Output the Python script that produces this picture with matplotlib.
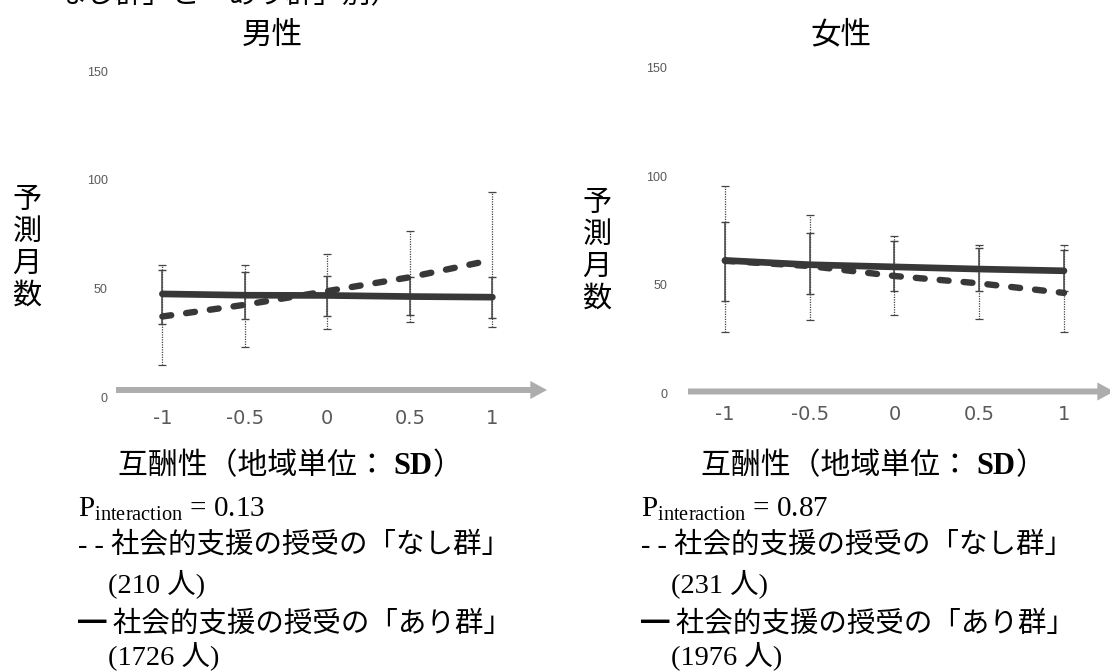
import matplotlib
matplotlib.use("Agg")
import matplotlib.pyplot as plt
from matplotlib.patches import FancyArrowPatch
from matplotlib import transforms

plt.rcParams["mathtext.fontset"] = "custom"
plt.rcParams["mathtext.rm"] = "Liberation Serif"
plt.rcParams["mathtext.it"] = "Liberation Serif:italic"

# ---------------- data ----------------
x_levels = [-1, -0.5, 0, 0.5, 1]
x_tick_labels = ["-1", "-0.5", "0", "0.5", "1"]
y_ticks = [0, 50, 100, 150]

panel_titles = ["男性", "女性"]
p_interaction = ["0.13", "0.87"]
n_without = ["210", "231"]
n_with = ["1726", "1976"]

# men: social support exchange "none" group (dashed) and "present" group (solid)
male_none = [37.1, 42.5, 48.8, 55.2, 63.2]
male_none_lo = [14.8, 23.2, 31.2, 34.5, 32.4]
male_none_hi = [60.9, 60.9, 65.9, 76.3, 94.3]
male_with = [47.5, 46.9, 46.8, 46.3, 46.0]
male_with_lo = [33.7, 35.9, 37.4, 37.8, 36.6]
male_with_hi = [58.6, 57.8, 55.8, 55.5, 55.4]

# women
female_none = [61.0, 58.6, 54.0, 50.6, 46.2]
female_none_lo = [28.2, 33.7, 36.0, 34.1, 28.3]
female_none_hi = [95.5, 82.1, 72.5, 68.3, 68.3]
female_with = [61.2, 59.2, 58.2, 57.2, 56.4]
female_with_lo = [42.3, 45.6, 47.2, 47.0, 47.0]
female_with_hi = [78.8, 73.7, 70.3, 66.8, 66.0]

# ---------------- layout ----------------
W, H, DPI = 1110, 672, 100
CJK = "Noto Sans CJK JP"
SERIF_MIX = ["Liberation Serif", CJK]
LINE_COL = "#383838"
BAR_COL = "#444444"
TICK_COL = "#595959"
ARROW_COL = "#adadad"
TXT = 20.5

fig = plt.figure(figsize=(W / DPI, H / DPI), dpi=DPI)
fig.patch.set_facecolor("white")
renderer = fig.canvas.get_renderer()


def px_axes(x0, x1, ytop, ybot):
    return fig.add_axes([x0 / W, 1 - ybot / H, (x1 - x0) / W, (ybot - ytop) / H])


def ptext(x, y, s, **kw):
    return fig.text(x / W, 1 - y / H, s, **kw)


def chain_text(x, y, parts):
    """Write several differently styled pieces one after another on one line."""
    for s, kw in parts:
        t = ptext(x, y, s, ha="left", va="baseline", color="black", **kw)
        x = t.get_window_extent(renderer).x1


panels = [
    dict(box=(116, 547, 71.5, 397), xlim=(-1.281, 1.331), arrow_dy=7, ypad=6,
         none=(male_none, male_none_lo, male_none_hi),
         with_=(male_with, male_with_lo, male_with_hi),
         title_x=272, ylab_x=27, ylab_y0=200, xlab_x=118, leg_x=78),
    dict(box=(688, 1114, 68, 393), xlim=(-1.218, 1.295), arrow_dy=1.5, ypad=15,
         none=(female_none, female_none_lo, female_none_hi),
         with_=(female_with, female_with_lo, female_with_hi),
         title_x=841, ylab_x=597, ylab_y0=203, xlab_x=701, leg_x=641),
]

for i, pan in enumerate(panels):
    ax = px_axes(*pan["box"])
    ax.set_xlim(*pan["xlim"])
    ax.set_ylim(0, 150)
    for sp in ax.spines.values():
        sp.set_visible(False)
    ax.set_facecolor("none")

    ax.set_xticks(x_levels)
    ax.set_xticklabels(x_tick_labels)
    ax.set_yticks(y_ticks)
    ax.set_yticklabels([str(v) for v in y_ticks])
    ax.tick_params(axis="x", length=0, pad=9, labelsize=14, labelcolor=TICK_COL)
    ax.tick_params(axis="y", length=0, pad=pan["ypad"], labelsize=9, labelcolor=TICK_COL)
    for lab in ax.get_xticklabels():
        lab.set_fontfamily("DejaVu Sans")
    for lab in ax.get_yticklabels():
        lab.set_fontfamily(["Liberation Sans Narrow", "Liberation Sans"])

    # grey arrow acting as the horizontal axis
    tr = transforms.blended_transform_factory(ax.transAxes, ax.transData) + \
        transforms.ScaledTranslation(0, pan["arrow_dy"] / DPI, fig.dpi_scale_trans)
    arrow = FancyArrowPatch((0, 0), (1, 0), transform=tr,
                            arrowstyle="simple,tail_width=0.43,head_width=1.3,head_length=1.2",
                            mutation_scale=10, color=ARROW_COL, lw=0,
                            shrinkA=0, shrinkB=0, clip_on=False, zorder=1)
    ax.add_patch(arrow)

    # confidence intervals
    y, lo, hi = pan["none"]
    eb = ax.errorbar(x_levels, y, yerr=[[a - b for a, b in zip(y, lo)],
                                        [b - a for a, b in zip(y, hi)]],
                     fmt="none", ecolor=BAR_COL, elinewidth=0.9, capsize=2.6,
                     capthick=0.9, zorder=2)
    eb[2][0].set_linestyle((0, (1, 1)))
    y2, lo2, hi2 = pan["with_"]
    ax.errorbar(x_levels, y2, yerr=[[a - b for a, b in zip(y2, lo2)],
                                    [b - a for a, b in zip(y2, hi2)]],
                fmt="none", ecolor=BAR_COL, elinewidth=1.1, capsize=2.6,
                capthick=1.0, zorder=2)

    # predicted months
    ax.plot(x_levels, y2, color=LINE_COL, lw=4.8, solid_capstyle="round", zorder=3)
    ax.plot(x_levels, y, color=LINE_COL, lw=4.6, dashes=(1.4, 2.35),
            dash_capstyle="round", zorder=4)

    # panel title and axis titles
    ptext(pan["title_x"], 35, panel_titles[i], family=CJK, fontsize=22,
          ha="center", va="center", color="black")
    for k, ch in enumerate("予測月数"):
        ptext(pan["ylab_x"], pan["ylab_y0"] + 32 * k, ch, family=CJK, fontsize=21,
              ha="center", va="center", color="black")
    chain_text(pan["xlab_x"], 474, [
        ("互酬性（地域単位： ", dict(family=CJK, fontsize=21.5)),
        ("SD", dict(family="Liberation Serif", fontsize=22, fontweight="bold")),
        ("）", dict(family=CJK, fontsize=21.5)),
    ])

    # notes under each panel
    lx = pan["leg_x"]
    ptext(lx, 509, r"P$_{\rm interaction}$ = " + p_interaction[i], family=SERIF_MIX,
          fontsize=21, ha="left", va="center", color="black")
    ptext(lx, 545, "- - 社会的支援の授受の「なし群」", family=SERIF_MIX,
          fontsize=TXT, ha="left", va="center", color="black")
    ptext(lx + 30, 584, "(" + n_without[i] + " 人)", family=SERIF_MIX,
          fontsize=TXT, ha="left", va="center", color="black")
    ptext(lx, 623, "━ 社会的支援の授受の「あり群」", family=[CJK],
          fontsize=TXT, ha="left", va="center", color="black")
    ptext(lx + 30, 656, "(" + n_with[i] + " 人)", family=SERIF_MIX,
          fontsize=TXT, ha="left", va="center", color="black")

# caption line running off the top edge
ptext(57, 3, "なし群」と「あり群」別）", family=CJK, fontsize=TXT,
      ha="left", va="baseline", color="black")

fig.savefig("out.png", dpi=DPI, facecolor="white")
